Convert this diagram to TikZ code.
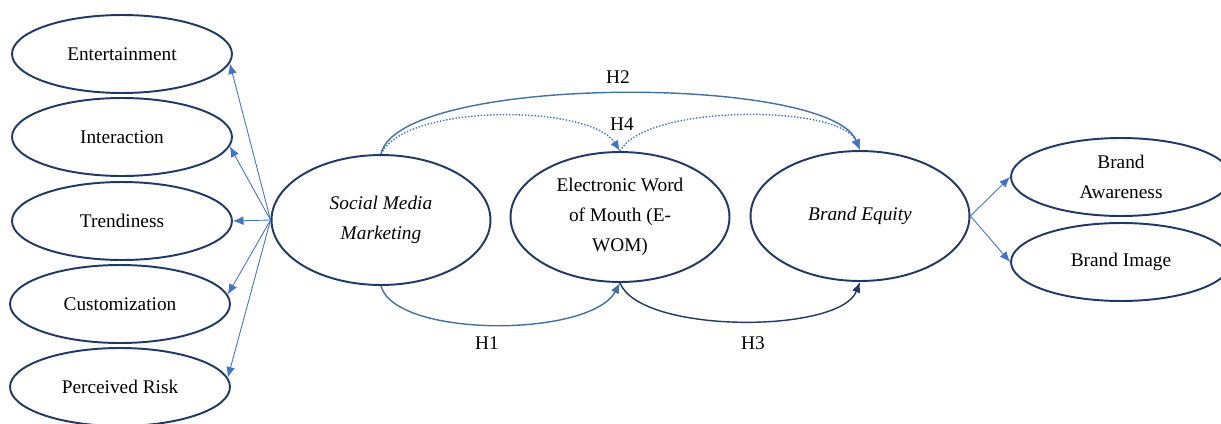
\documentclass[tikz,border=0pt]{standalone}
\usepackage{fontspec}
\setmainfont{Liberation Serif}
\usetikzlibrary{positioning,arrows.meta,shapes.geometric}
\definecolor{navy}{HTML}{203864}
\definecolor{lblue}{HTML}{4472C4}
\definecolor{sblue}{HTML}{41719C}

\begin{document}
\begin{tikzpicture}[x=0.02cm, y=-0.02cm, font=\fontsize{11}{17}\selectfont,
    facet/.style={ellipse,draw=navy,line width=1.1pt,minimum width=4.4cm,minimum height=1.56cm,inner sep=0pt},
    construct/.style={ellipse,draw=navy,line width=1.1pt,minimum width=4.38cm,minimum height=2.6cm,inner sep=0pt,align=center},
    link/.style={-{Latex[length=6pt,width=5pt]},lblue,line width=0.5pt},
    hyp/.style={-{Latex[length=6pt,width=5pt]},line width=0.8pt}]
  \useasboundingbox (0,0) rectangle (1221,423);

  % left facets
  \node[facet] (ent) at (122,54) {Entertainment};
  \node[facet] (int) at (122,137) {Interaction};
  \node[facet] (tre) at (122,221) {Trendiness};
  \node[facet] (cus) at (120,304) {Customization};
  \node[facet] (per) at (120,387) {Perceived Risk};

  % main constructs
  \node[construct] (smm) at (381,220) {\itshape Social Media\\\itshape Marketing};
  \node[construct] (ewom) at (620,217) {Electronic Word\\of Mouth (E-\\WOM)};
  \node[construct] (be) at (860,216) {\itshape Brand Equity};

  % right facets
  \node[facet,align=center] (ba) at (1121,177) {Brand\\Awareness};
  \node[facet] (bi) at (1121,262) {Brand Image};

  \draw[link] (smm.west) -- (ent.-5);
  \draw[link] (smm.west) -- (int.-5);
  \draw[link] (smm.west) -- (tre.east);
  \draw[link] (smm.west) -- (cus.5);
  \draw[link] (smm.west) -- (per.5);
  \draw[link] (be.east) -- (ba.west);
  \draw[link] (be.east) -- (bi.west);

  % hypotheses
  \draw[hyp,sblue] (smm.north) .. controls (398,74) and (830,74) .. (be.north);
  \draw[hyp,lblue,densely dotted] (smm.north) .. controls (405,103) and (590,104) .. (ewom.north);
  \draw[hyp,lblue,densely dotted] (ewom.north) .. controls (645,104) and (840,104) .. (be.north);
  \draw[hyp,sblue] (smm.south) .. controls (395,338) and (590,338) .. (ewom.south);
  \draw[hyp,navy] (ewom.south) .. controls (640,334) and (840,334) .. (be.south);

  \node (h2) at (618,77) {H2};
  \node (h4) at (622,124) {H4};
  \node (h1) at (487,343) {H1};
  \node (h3) at (753,343) {H3};
\end{tikzpicture}
\end{document}
